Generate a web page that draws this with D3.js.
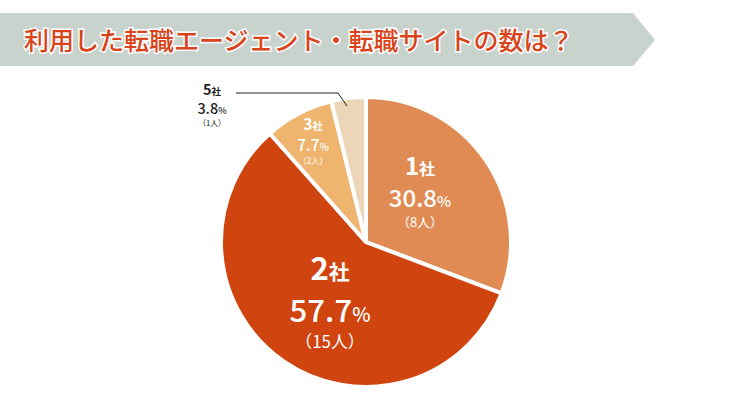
<!DOCTYPE html>
<html><head><meta charset="utf-8">
<script src="https://cdn.jsdelivr.net/npm/d3@7"></script>
<style>body{margin:0;background:#fff}text{font-family:"Noto Sans CJK JP","Noto Sans",sans-serif}</style>
</head><body><svg width="729" height="410"></svg>
<script>
const title = "利用した転職エージェント・転職サイトの数は？";
const categories = ["1社", "2社", "3社", "5社"];
const counts = [8, 15, 2, 1];
const percents = ["30.8", "57.7", "7.7", "3.8"];
const colors = ["#e08b53", "#d0440f", "#efb46d", "#ecd6b7"];

const svg = d3.select("svg");
const cx = 366, cy = 242, r = 145;

// banner
svg.append("path")
    .attr("d", "M0,13 H633 L655,40 L633,66 H0 Z")
    .attr("fill", "#c9d3ce");
svg.append("text").attr("x", 24).attr("y", 50)
    .attr("font-size", 25).attr("font-weight", 500)
    .attr("fill", "#d9441b").attr("stroke", "#fff").attr("stroke-width", 3)
    .attr("paint-order", "stroke").text(title);

const data = categories.map((c, i) => ({c, n: counts[i], p: percents[i], col: colors[i]}));
const arcs = d3.pie().value(d => d.n).sort(null)(data);
const arc = d3.arc().innerRadius(0).outerRadius(r);
const g = svg.append("g").attr("transform", `translate(${cx},${cy})`);
g.selectAll("path").data(arcs).join("path")
    .attr("d", arc).attr("fill", d => d.data.col)
    .attr("stroke", "#fff").attr("stroke-width", 4);

// labels: [x, y, scale, color]
const lab = [[420, 175, 1, "#fff"], [330, 280, 1.3, "#fff"], [313, 130, 0.65, "#fff"], [212, 95, 0.6, "#222"]];
data.forEach((d, i) => {
    const [x, y, s, col] = lab[i];
    const t = svg.append("g").attr("transform", `translate(${x},${y})`).attr("fill", col).attr("text-anchor", "middle");
    const a = t.append("text").attr("y", 0).attr("font-size", 24 * s).attr("font-weight", 600);
    a.append("tspan").text(d.c[0]);
    a.append("tspan").attr("font-size", 16 * s).text(d.c.slice(1));
    const b = t.append("text").attr("y", 32 * s).attr("font-size", 24 * s).attr("font-weight", 500);
    b.append("tspan").text(d.p);
    b.append("tspan").attr("font-size", 15 * s).text("%");
    t.append("text").attr("y", 52 * s).attr("font-size", 13 * s).text(`（${d.n}人）`);
});

// leader line for 5社
svg.append("polyline").attr("points", "236,93 338,93 347,106")
    .attr("fill", "none").attr("stroke", "#222").attr("stroke-width", 1);
</script></body></html>
